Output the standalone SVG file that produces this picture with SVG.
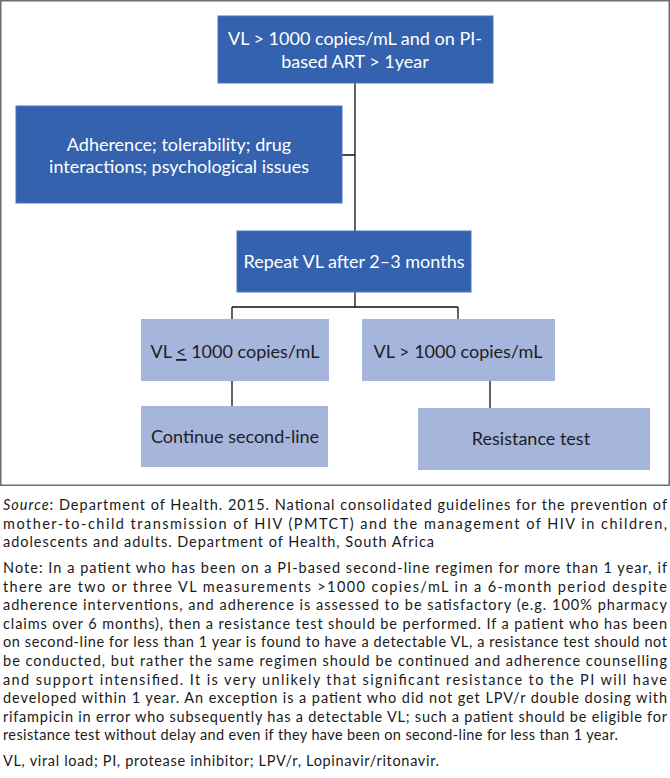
<svg xmlns="http://www.w3.org/2000/svg" width="670" height="778" viewBox="0 0 670 778">
<style>
.dk{fill:#3462ae;stroke:#4b76bf;stroke-width:1}
.lt{fill:#a6b5dc}
.bt{font-family:Lato,"Open Sans","Liberation Sans",sans-serif;font-size:18px;text-anchor:middle}
.w{fill:#ffffff}
.k{fill:#1e1e1e}
.c{stroke:#111;stroke-width:1.3;fill:none}
.p{font-family:Lato,"Open Sans","Liberation Sans",sans-serif;font-size:14.5px;fill:#1a1a1a}
</style>
<rect x="0.75" y="0.75" width="668.5" height="484.5" fill="#ffffff" stroke="#6e6e6e" stroke-width="1.5"/>
<g id="connectors">
<path class="c" d="M355 83 V231 M342 155 H355 M355 292 V307 M232 307 H458 M232 307 V319 M458 307 V319 M232 381 V406 M490 381 V408"/>
</g>
<g id="n1"><rect class="dk" x="218" y="16" width="275" height="67"/>
<text class="bt w" x="355" y="45">VL &gt; 1000 copies/mL and on PI-</text>
<text class="bt w" x="355" y="68">based ART &gt; 1year</text></g>
<g id="n2"><rect class="dk" x="16" y="106" width="326" height="97"/>
<text class="bt w" x="179" y="151">Adherence; tolerability; drug</text>
<text class="bt w" x="179" y="173">interactions; psychological issues</text></g>
<g id="n3"><rect class="dk" x="237" y="231" width="234" height="61"/>
<text class="bt w" x="354" y="268">Repeat VL after 2–3 months</text></g>
<g id="n4"><rect class="lt" x="141" y="319" width="188" height="62"/>
<text class="bt k" x="235" y="358">VL <tspan text-decoration="underline">&lt;</tspan> 1000 copies/mL</text></g>
<g id="n5"><rect class="lt" x="362" y="319" width="193" height="62"/>
<text class="bt k" x="458" y="358">VL &gt; 1000 copies/mL</text></g>
<g id="n6"><rect class="lt" x="141" y="406" width="187" height="61"/>
<text class="bt k" x="235" y="443">Continue second-line</text></g>
<g id="n7"><rect class="lt" x="418" y="408" width="232" height="62"/>
<text class="bt k" x="531" y="445">Resistance test</text></g>
<g id="notes">
<text class="p" x="3" y="510" textLength="664" lengthAdjust="spacing"><tspan font-style="italic">Source</tspan>: Department of Health. 2015. National consolidated guidelines for the prevention of</text>
<text class="p" x="3" y="528.6" textLength="664" lengthAdjust="spacing">mother-to-child transmission of HIV (PMTCT) and the management of HIV in children,</text>
<text class="p" x="3" y="547" textLength="431" lengthAdjust="spacing">adolescents and adults. Department of Health, South Africa</text>
<text class="p" x="3" y="573" textLength="664" lengthAdjust="spacing">Note: In a patient who has been on a PI-based second-line regimen for more than 1 year, if</text>
<text class="p" x="3" y="591.6" textLength="664" lengthAdjust="spacing">there are two or three VL measurements &gt;1000 copies/mL in a 6-month period despite</text>
<text class="p" x="3" y="610.2" textLength="664" lengthAdjust="spacing">adherence interventions, and adherence is assessed to be satisfactory (e.g. 100% pharmacy</text>
<text class="p" x="3" y="628.8" textLength="664" lengthAdjust="spacing">claims over 6 months), then a resistance test should be performed. If a patient who has been</text>
<text class="p" x="3" y="647.4" textLength="664" lengthAdjust="spacing">on second-line for less than 1 year is found to have a detectable VL, a resistance test should not</text>
<text class="p" x="3" y="666" textLength="664" lengthAdjust="spacing">be conducted, but rather the same regimen should be continued and adherence counselling</text>
<text class="p" x="3" y="684.6" textLength="664" lengthAdjust="spacing">and support intensified. It is very unlikely that significant resistance to the PI will have</text>
<text class="p" x="3" y="703.2" textLength="664" lengthAdjust="spacing">developed within 1 year. An exception is a patient who did not get LPV/r double dosing with</text>
<text class="p" x="3" y="721.8" textLength="664" lengthAdjust="spacing">rifampicin in error who subsequently has a detectable VL; such a patient should be eligible for</text>
<text class="p" x="3" y="740.4" textLength="615" lengthAdjust="spacing">resistance test without delay and even if they have been on second-line for less than 1 year.</text>
<text class="p" x="3" y="765.5" textLength="436" lengthAdjust="spacing">VL, viral load; PI, protease inhibitor; LPV/r, Lopinavir/ritonavir.</text>
</g>
</svg>
